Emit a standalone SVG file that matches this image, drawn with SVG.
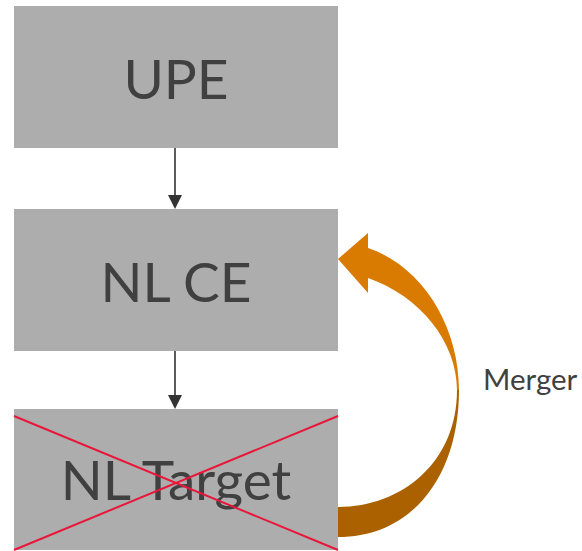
<svg xmlns="http://www.w3.org/2000/svg" width="582" height="551" viewBox="0 0 582 551">
<style>
.box{fill:#adadad}
.lbl{font-family:Lato,"Open Sans",sans-serif;fill:#404040;text-anchor:middle;font-size:55px}
.conn{stroke:#333;stroke-width:1.6;fill:none}
.x{stroke:#e8173a;stroke-width:2}
</style>
<g id="upe"><rect class="box" x="14" y="6" width="324" height="142"/><text class="lbl" x="176" y="99">UPE</text></g>
<g id="nlce"><rect class="box" x="14" y="209" width="324" height="142"/><text class="lbl" x="176" y="302">NL CE</text></g>
<g id="nltarget"><rect class="box" x="14" y="409" width="324" height="141"/><text class="lbl" x="176" y="500">NL Target</text>
<line class="x" x1="14" y1="416" x2="338" y2="550"/><line class="x" x1="14" y1="550" x2="338" y2="416"/></g>
<g id="connectors">
<line class="conn" x1="175" y1="148" x2="175" y2="196"/><path d="M168,195 L182,195 L175,209 Z" fill="#333"/>
<line class="conn" x1="175" y1="351" x2="175" y2="396"/><path d="M168,395 L182,395 L175,409 Z" fill="#333"/>
<g id="merger">
<path d="M338,259 L368,233 L368,248 C422,266 459,326 459,390 L457,390 C457,342 420,296 368,278 L368,293 Z" fill="#d87b00"/>
<path d="M459,390 C459,474 414,537 338,537 L338,507 C402,507 457,462 457,390 Z" fill="#ab6100"/>
<text x="483" y="390" style="font-family:Lato,'Open Sans',sans-serif;font-size:29.5px;fill:#404040">Merger</text>
</g>
</g>
</svg>
